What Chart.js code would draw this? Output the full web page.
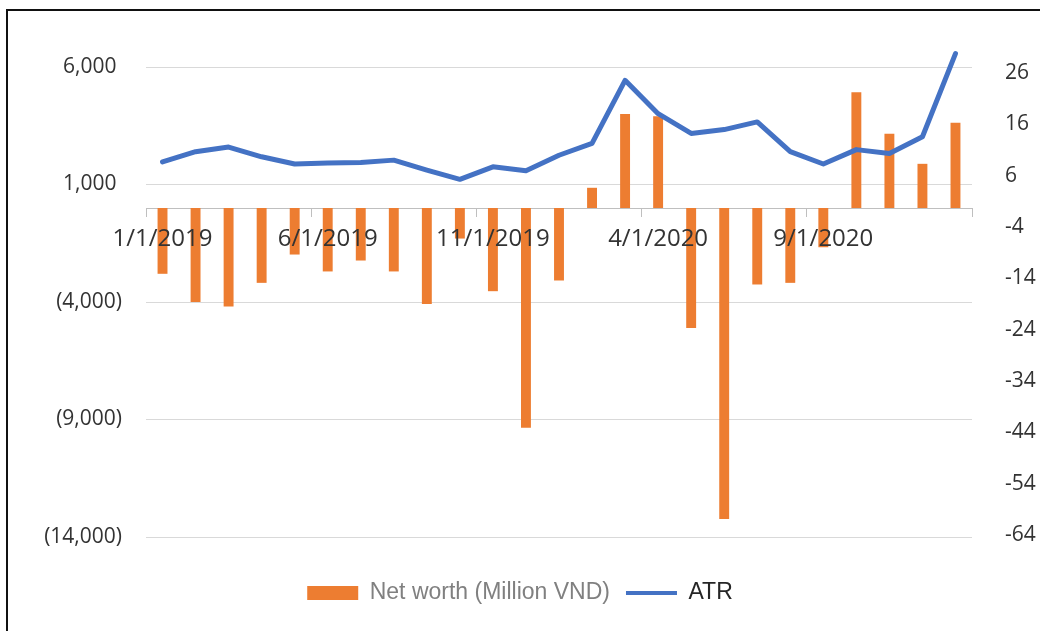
<!DOCTYPE html>
<html><head><meta charset="utf-8">
<script src="https://cdn.jsdelivr.net/npm/chart.js@4.4.0/dist/chart.umd.min.js"></script>
<style>
html,body{margin:0;padding:0;background:#fff;width:1040px;height:631px;overflow:hidden;}
#frame{position:absolute;left:6px;top:9px;width:1100px;height:700px;border-left:2px solid #111;border-top:2px solid #111;}
#c{position:absolute;left:0;top:0;}
</style></head><body>
<div id="frame"></div>
<canvas id="c" width="1040" height="631"></canvas>
<script>
const categories = ['1/1/2019','2/1/2019','3/1/2019','4/1/2019','5/1/2019','6/1/2019','7/1/2019','8/1/2019','9/1/2019','10/1/2019','11/1/2019','12/1/2019',
  '1/1/2020','2/1/2020','3/1/2020','4/1/2020','5/1/2020','6/1/2020','7/1/2020','8/1/2020','9/1/2020','10/1/2020','11/1/2020','12/1/2020','1/1/2021'];
const netWorth = [-2800,-4000,-4190,-3185,-1980,-2700,-2235,-2700,-4080,-1300,-3540,-9350,
  -3085,860,4000,3900,-5110,-13230,-3255,-3185,-1670,4930,3160,1880,3625];
const atr = [8.7,10.7,11.6,9.7,8.3,8.5,8.6,9.05,7.1,5.3,7.75,7.0,
  10.0,12.3,24.6,18.1,14.25,15.0,16.5,10.7,8.3,11.1,10.35,13.6,29.8];
const leftTicks = [-14000,-9000,-4000,1000,6000];
const rightTicks = [-64,-54,-44,-34,-24,-14,-4,6,16,26];
const xLabelEvery = 5;

const barColor = '#ED7D31';
const lineColor = '#4472C4';
const axisFont = 'Open Sans';

new Chart(document.getElementById('c'), {
  type: 'bar',
  data: {
    labels: categories,
    datasets: [
      {type:'bar', label:'Net worth (Million VND)', data: netWorth, backgroundColor: barColor, borderWidth:0,
       barPercentage:0.3, categoryPercentage:1, yAxisID:'y', order:1},
      {type:'line', label:'ATR', data: atr, borderColor: lineColor, backgroundColor: lineColor, borderWidth:5,
       pointRadius:0, tension:0, yAxisID:'y1', order:0, clip:false, borderCapStyle:'round', borderJoinStyle:'round'}
    ]
  },
  options: {
    responsive:false, animation:false,
    layout:{padding:{left:0,right:0,top:67,bottom:16.5}},
    scales:{
      x:{
        position:{y:0}, offset:true,
        grid:{drawOnChartArea:false, offset:true, tickLength:8, tickWidth:1,
          tickColor:(ctx)=> (ctx.index === undefined || ctx.index % xLabelEvery === 0) ? '#BFBFBF' : 'rgba(0,0,0,0)'},
        border:{display:true, color:'#BFBFBF', width:1},
        ticks:{z:1, autoSkip:false, maxRotation:0, minRotation:0, padding:9, color:'#333',
          font:{family:axisFont, size:24},
          callback:function(v, i){ return i % xLabelEvery === 0 ? categories[i] : ''; }}
      },
      y:{
        position:'left', min:-14000, max:6000,
        afterBuildTicks:(s)=>{ s.ticks = leftTicks.map(v=>({value:v})); },
        afterFit:(s)=>{ s.width = 146; },
        grid:{color:'#D9D9D9', lineWidth:1, drawTicks:false},
        border:{display:false},
        ticks:{padding:24, color:'#333', font:{family:axisFont, size:21},
          callback:(v)=> v < 0 ? '(' + Math.abs(v).toLocaleString('en-US') + ')' : v.toLocaleString('en-US') + ' '}
      },
      y1:{
        position:'right', min:-64.4, max:27.2,
        afterBuildTicks:(s)=>{ s.ticks = rightTicks.map(v=>({value:v})); },
        afterFit:(s)=>{ s.width = 68; },
        grid:{display:false},
        border:{display:false},
        ticks:{padding:25, color:'#333', font:{family:axisFont, size:21}}
      }
    },
    plugins:{
      tooltip:{enabled:false},
      legend:{
        position:'bottom',
        title:{display:true, text:'', font:{size:10, lineHeight:1}, padding:{top:9, bottom:9.5}},
        labels:{
          usePointStyle:true, pointStyleWidth:51, boxWidth:51, boxHeight:14, padding:16,
          font:{family:'Liberation Sans', size:23},
          generateLabels:(chart)=>{
            const ds = chart.data.datasets;
            return [
              {text:ds[0].label, fillStyle:barColor, strokeStyle:barColor, lineWidth:0, pointStyle:'rect', fontColor:'#808080', datasetIndex:0, hidden:false},
              {text:ds[1].label, fillStyle:lineColor, strokeStyle:lineColor, lineWidth:4, pointStyle:'line', fontColor:'#262626', datasetIndex:1, hidden:false}
            ];
          }
        }
      }
    }
  }
});
</script>
</body></html>
